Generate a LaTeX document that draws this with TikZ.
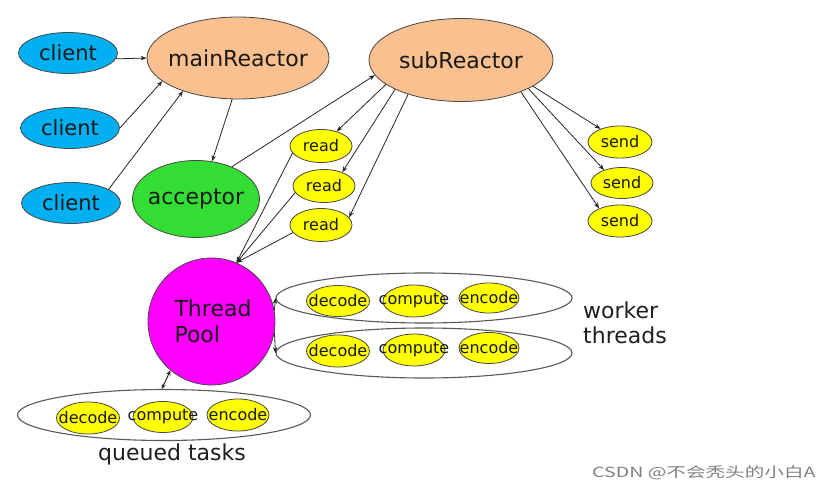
\documentclass[tikz,border=0pt]{standalone}
\usepackage{fontspec}
\usepackage{graphicx}
\setmainfont{DejaVu Sans}
\newfontfamily\cjk{Noto Sans CJK SC}
\usetikzlibrary{shapes.geometric,arrows.meta}
\definecolor{cblue}{HTML}{00B0F0}
\definecolor{cpeach}{HTML}{FAC08F}
\definecolor{cgreen}{HTML}{33DD33}
\definecolor{cmag}{HTML}{FF00FF}
\definecolor{cyellow}{HTML}{FFFF00}
\newcommand\mz[1]{\makebox[0pt]{#1}}
\begin{document}
\begin{tikzpicture}[x=1pt,y=-1pt,
  ell/.style={ellipse,draw=black!72,line width=0.8pt,inner sep=0pt,text=black!90},
  big/.style={ell,font=\fontsize{22}{26}\selectfont},
  cli/.style={big,fill=cblue,minimum width=99pt,minimum height=41pt,font=\fontsize{21}{25}\selectfont},
  sml/.style={ell,fill=cyellow,font=\fontsize{16}{19}\selectfont},
  conn/.style={draw=black!85,line width=0.8pt,-{Stealth[length=6pt,width=4.5pt]}},
  grp/.style={ellipse,draw=black!65,line width=1.1pt,inner sep=0pt},
  lbl/.style={inner sep=0pt,text=black!88,font=\fontsize{22}{26}\selectfont}
]
\useasboundingbox[fill=white] (0,0) rectangle (831,495);

% clients
\node[cli] (client1) at (68,53) {\mz{client}};
\node[cli] (client2) at (70,128) {\mz{client}};
\node[cli] (client3) at (71,203) {\mz{client}};

% reactors
\node[big,fill=cpeach,minimum width=182pt,minimum height=82pt] (mainR) at (238,58) {\mz{mainReactor}};
\node[big,fill=cpeach,minimum width=184pt,minimum height=83pt] (subR) at (461,60) {\mz{subReactor}};
\node[big,fill=cgreen,minimum width=127pt,minimum height=77pt] (acc) at (196,199) {\mz{acceptor}};

% read / send
\node[sml,minimum width=62pt,minimum height=33pt] (read1) at (321,146) {\mz{read}};
\node[sml,minimum width=62pt,minimum height=33pt] (read2) at (324,186) {\mz{read}};
\node[sml,minimum width=62pt,minimum height=33pt] (read3) at (321,225) {\mz{read}};
\node[sml,minimum width=64pt,minimum height=32pt] (send1) at (620,142) {\mz{send}};
\node[sml,minimum width=62pt,minimum height=31pt] (send2) at (622,183) {\mz{send}};
\node[sml,minimum width=64pt,minimum height=32pt] (send3) at (620,221) {\mz{send}};

% thread pool
\node[big,fill=cmag,minimum width=127pt,minimum height=127pt,align=left,text depth=0pt] (tp) at (211.5,321.5) {\hspace*{3pt}Thread\\\hspace*{3pt}Pool};

% worker groups
\node[grp,minimum width=296pt,minimum height=50pt] (w1) at (424,298) {};
\node[grp,minimum width=296pt,minimum height=50pt] (w2) at (424,353) {};
\node[sml,minimum width=63pt,minimum height=31pt] (wd1) at (338,301) {\mz{decode}};
\node[sml,minimum width=62pt,minimum height=32pt] (wc1) at (414,301) {\mz{compute}};
\node[sml,minimum width=60pt,minimum height=30pt] (we1) at (489,298) {\mz{encode}};
\node[sml,minimum width=63pt,minimum height=32pt] (wd2) at (338,351) {\mz{decode}};
\node[sml,minimum width=62pt,minimum height=32pt] (wc2) at (414,350) {\mz{compute}};
\node[sml,minimum width=60pt,minimum height=31pt] (we2) at (489,348) {\mz{encode}};
\node[lbl,anchor=base west] (wk) at (583,318) {worker};
\node[lbl,anchor=base west] (th) at (583,343) {threads};

% queued tasks
\node[grp,minimum width=293pt,minimum height=51pt] (q) at (164,415) {};
\node[sml,minimum width=63pt,minimum height=32pt] (qd) at (88,418) {\mz{decode}};
\node[sml,minimum width=60pt,minimum height=31pt] (qc) at (163,417) {\mz{compute}};
\node[sml,minimum width=62pt,minimum height=32pt] (qe) at (238,415) {\mz{encode}};
\node[lbl,anchor=base] (qt) at (172,460) {queued tasks};

% watermark
\node[inner sep=0pt,anchor=base west,text=black!50] (wm) at (592,477) {\scalebox{1.4}[1]{\cjk\fontsize{14}{16}\selectfont CSDN @不会秃头的小白A}};

% connectors
\draw[conn] (client1.-7) -- (mainR.west);
\draw[conn] (client2.east) -- (mainR.197);
\draw[conn] (client3.20) -- (mainR.211);
\draw[conn] (mainR.262) -- (acc.67);
\draw[conn] (acc.42) -- (subR.190);
\draw[conn] (subR.198) -- (read1.43);
\draw[conn] (subR.204) -- (read2.37);
\draw[conn] (subR.213) -- (read3.15);
\draw[conn] (subR.-20) -- (send1.146);
\draw[conn] (subR.-23) -- (send2.144);
\draw[conn] (subR.-28) -- (send3.149);
\draw[conn] (read1.194) -- (tp.67);
\draw[conn] (read2.193) -- (tp.67);
\draw[conn] (read3.195) -- (tp.67);
\draw[conn] (tp.10) -- (w1.west);
\draw[conn] (tp.-10) -- (w2.west);
\draw[conn,line width=1pt,{Stealth[length=5pt,width=4.5pt]}-{Stealth[length=5pt,width=4.5pt]}] (tp.230) -- (q.95);
\end{tikzpicture}
\end{document}
